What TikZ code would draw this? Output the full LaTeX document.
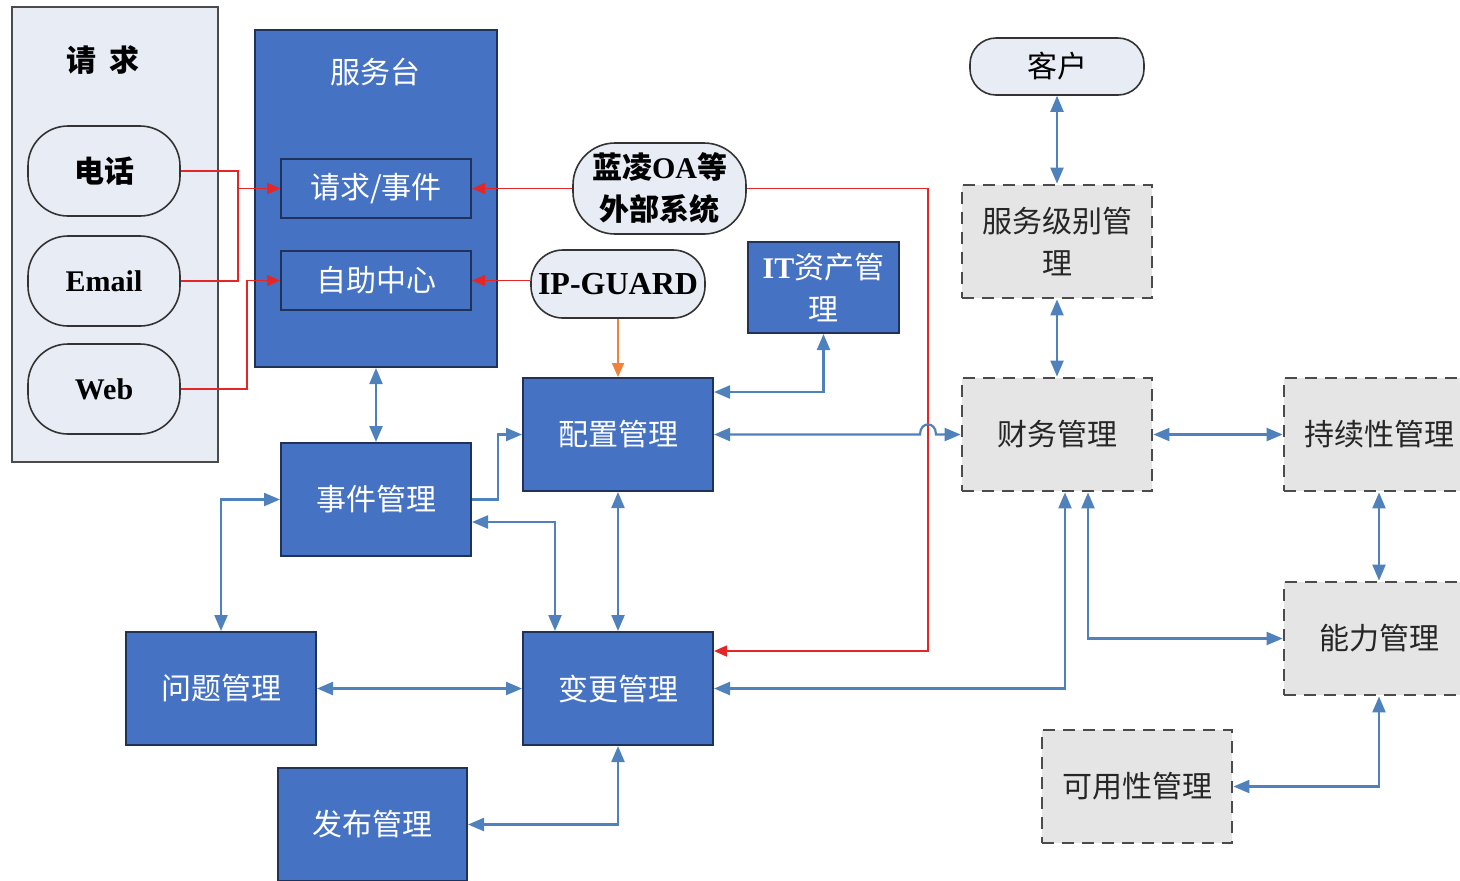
\documentclass[tikz,border=0pt]{standalone}
\usepackage{fontspec}
\setmainfont{Liberation Serif}
\newfontfamily\cjk{Noto Sans CJK SC}
\usetikzlibrary{arrows.meta}
\definecolor{bfill}{RGB}{70,114,196}
\definecolor{bdraw}{RGB}{30,50,90}
\definecolor{lfill}{RGB}{232,236,245}
\definecolor{gfill}{RGB}{229,229,229}
\definecolor{gdraw}{RGB}{75,75,75}
\definecolor{larr}{RGB}{79,129,189}
\definecolor{rarr}{RGB}{228,38,38}
\definecolor{oarr}{RGB}{240,130,60}
\begin{document}
\begin{tikzpicture}[x=0.5pt,y=-0.5pt,
  ftxt/.style={font=\cjk\fontsize{15pt}{21pt}\selectfont},
  fbold/.style={font=\cjk\bfseries\fontsize{15pt}{21pt}\selectfont},
  flat/.style={font=\rmfamily\bfseries\fontsize{15pt}{21pt}\selectfont},
  bluebox/.style={draw=bdraw, line width=1pt, fill=bfill, text=white, minimum width=95pt, minimum height=56.5pt, inner sep=2pt, align=center, ftxt},
  subbox/.style={bluebox, minimum height=29.5pt},
  graybox/.style={draw=gdraw, line width=1.4pt, dash pattern=on 6pt off 4pt, fill=gfill, text=black!85, minimum width=95pt, minimum height=56.5pt, inner sep=2pt, align=center, ftxt},
  pill/.style={draw=black!80, line width=0.8pt, fill=lfill, rounded corners=20pt, minimum width=76pt, minimum height=45pt, inner sep=2pt, align=center, text=black},
  container/.style={draw=gdraw, line width=1pt, fill=lfill, minimum width=103pt, minimum height=227.5pt},
  arr/.style={draw=larr, line width=1.1pt, {Triangle[length=8pt,width=6.5pt]}-{Triangle[length=8pt,width=6.5pt]}},
  arrone/.style={draw=larr, line width=1.1pt, -{Triangle[length=8pt,width=6.5pt]}},
  redarr/.style={draw=rarr, line width=0.9pt, -{Triangle[length=6.5pt,width=5.5pt]}},
  orgarr/.style={draw=oarr, line width=1pt, -{Triangle[length=7pt,width=6pt]}}
]
\useasboundingbox (0,0) rectangle (1460,880);
\clip (0,0) rectangle (1460,880);

% request container
\node[container] (qq) at (115,234.5) {};
\node[fbold, text=black] (qqt) at (103,60) {请\hspace{0.45em}求};
\node[pill, fbold] (dh) at (104,171) {电话};
\node[pill, flat] (em) at (104,281) {Email};
\node[pill, flat] (web) at (104,389) {Web};

% service desk
\node[bluebox, minimum width=121pt, minimum height=168.5pt] (fwt) at (376,198.5) {};
\node[ftxt, text=white] (fwtt) at (375,72) {服务台};
\node[subbox] (qs) at (376,188.5) {请求/事件};
\node[subbox] (zz) at (376,280.5) {自助中心};

% external systems
\node[pill, fbold, minimum width=86.5pt, minimum height=45.5pt, rounded corners=21pt] (lan) at (659.5,188.5) {蓝凌{\rmfamily OA}等\\外部系统};
\node[pill, font=\rmfamily\bfseries\fontsize{16pt}{19pt}\selectfont, minimum width=87pt, minimum height=34pt, rounded corners=16pt] (ipg) at (618,284) {IP-GUARD};
\node[bluebox, minimum width=75.5pt, minimum height=45.5pt] (it) at (823.5,287.5) {{\rmfamily\bfseries IT}资产管\\理};

% processes
\node[bluebox] (pz) at (618,434.5) {配置管理};
\node[bluebox] (sj) at (376,499.5) {事件管理};
\node[bluebox] (wt) at (221,688.5) {问题管理};
\node[bluebox] (bg) at (618,688.5) {变更管理};
\node[bluebox, minimum width=94.5pt] (fb) at (372.5,824.5) {发布管理};

% right side
\node[pill, ftxt, minimum width=87pt, minimum height=28.5pt, rounded corners=13pt] (kh) at (1057,66.5) {客户};
\node[graybox] (fw) at (1057,241.5) {服务级别管\\理};
\node[graybox] (cw) at (1057,434.5) {财务管理};
\node[graybox] (cx) at (1379,434.5) {持续性管理};
\node[graybox] (nl) at (1379,638.5) {能力管理};
\node[graybox] (ky) at (1137,786.5) {可用性管理};

% red connectors
\draw[redarr] (dh.east) -- ++(57,0) |- (qs.west);
\draw[redarr] (em.east) -- ++(57,0) |- (qs.west);
\draw[redarr] (web.east) -- ++(66,0) |- (zz.west);
\draw[redarr] (lan.west) -- (qs.east);
\draw[redarr] (ipg.west |- zz.east) -- (zz.east);
\coordinate (r1) at (928,651);
\draw[redarr] (lan.east) -| (r1) -- (bg.east |- r1);

% orange
\draw[orgarr] (ipg.south) -- (pz.north);

% blue connectors
\draw[arr] (fwt.south) -- (sj.north);
\draw[arrone] (sj.east) -- (498,499.5) |- (pz.west);
\coordinate (c1) at (555,522);
\draw[arr] (sj.east |- c1) -- (c1) -- (c1 |- bg.north);
\draw[arr] (pz.south) -- (bg.north);
\coordinate (c2) at (823.5,392);
\draw[arr] (pz.east |- c2) -- (c2) -- (it.south);
\draw[arr] (pz.east) -- (920,434.5) .. controls (920,421) and (936,421) .. (936,434.5) -- (cw.west);
\draw[arr] (sj.west) -| (wt.north);
\draw[arr] (wt.east) -- (bg.west);
\draw[arr] (fb.east) -| (bg.south);
\coordinate (c3) at (1065,688.5);
\draw[arr] (bg.east) -- (c3) -- (c3 |- cw.south);
\coordinate (c4) at (1088,638.5);
\draw[arr] (c4 |- cw.south) -- (c4) -- (nl.west);
\draw[arr] (kh.south) -- (fw.north);
\draw[arr] (fw.south) -- (cw.north);
\draw[arr] (cw.east) -- (cx.west);
\draw[arr] (cx.south) -- (nl.north);
\draw[arr] (nl.south) |- (ky.east);
\end{tikzpicture}
\end{document}
